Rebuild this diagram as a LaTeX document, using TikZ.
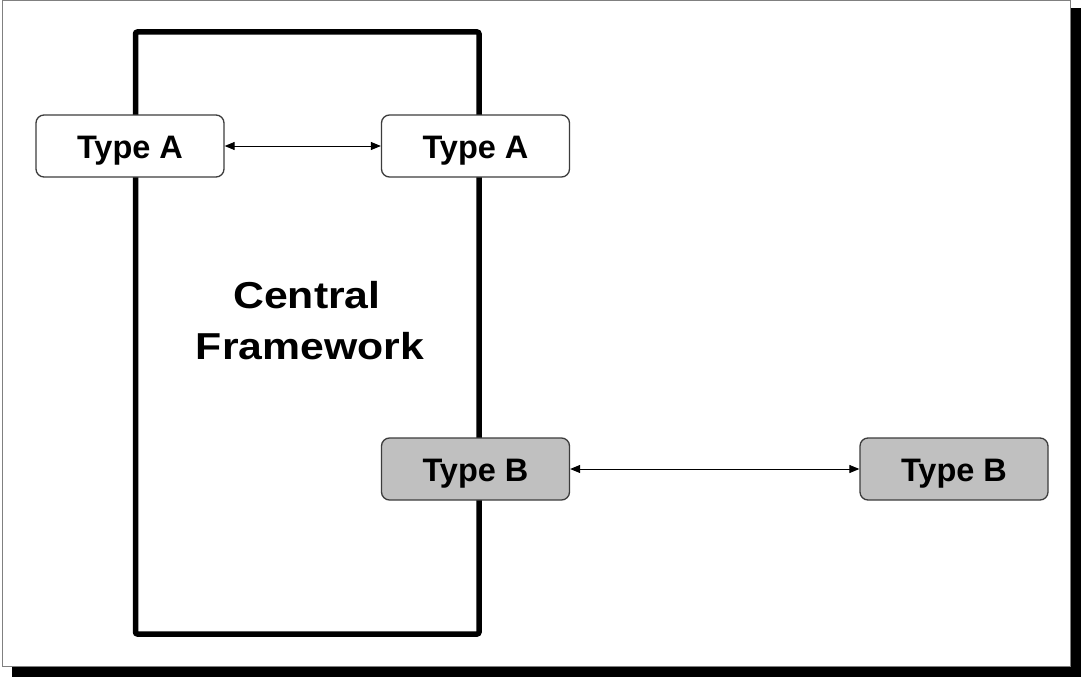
\documentclass[tikz,border=0pt]{standalone}
\usepackage{fontspec}
\usepackage{graphicx}
\setmainfont{Liberation Sans}
\usetikzlibrary{arrows.meta}
\definecolor{boxgrey}{RGB}{192,192,192}
\definecolor{edgegrey}{RGB}{60,60,60}
\newcommand{\widetitle}[1]{\scalebox{1.14}[1]{#1}}
\tikzset{
  typebox/.style={draw=edgegrey, line width=1.3pt, rounded corners=8pt,
    minimum width=188pt, minimum height=62pt, inner sep=0pt,
    text height=25.6pt, text depth=0pt,
    font=\fontsize{32.5}{36}\selectfont\bfseries},
  typea/.style={typebox, fill=white},
  typeb/.style={typebox, fill=boxgrey},
  title/.style={anchor=base, inner sep=0pt,
    font=\fontsize{37.5}{53}\selectfont\bfseries},
  link/.style={line width=1pt, {Triangle[length=10pt,width=8pt]}-{Triangle[length=10pt,width=8pt]}}
}
\begin{document}
\begin{tikzpicture}[x=1pt,y=-1pt]
  \useasboundingbox (0,0) rectangle (1081,677);
  % drop shadow and page frame
  \fill[black] (12,8) rectangle (1081,677);
  \draw[fill=white, draw=gray, line width=1pt] (2,1) rectangle (1070,666);
  % central framework block
  \draw[line width=5.5pt, rounded corners=2pt] (135.5,32) rectangle (479,634);
  \node[title] (cf1) at (307,308) {\widetitle{Central}};
  \node[title] (cf2) at (310,359) {\widetitle{Framework}};
  % interface boxes
  \node[typea] (a1) at (130,146) {Type A};
  \node[typea] (a2) at (475.5,146) {Type A};
  \node[typeb] (b1) at (475.5,469) {Type B};
  \node[typeb] (b2) at (954,469) {Type B};
  % links
  \draw[link] (a1.east) -- (a2.west);
  \draw[link] (b1.east) -- (b2.west);
\end{tikzpicture}
\end{document}
